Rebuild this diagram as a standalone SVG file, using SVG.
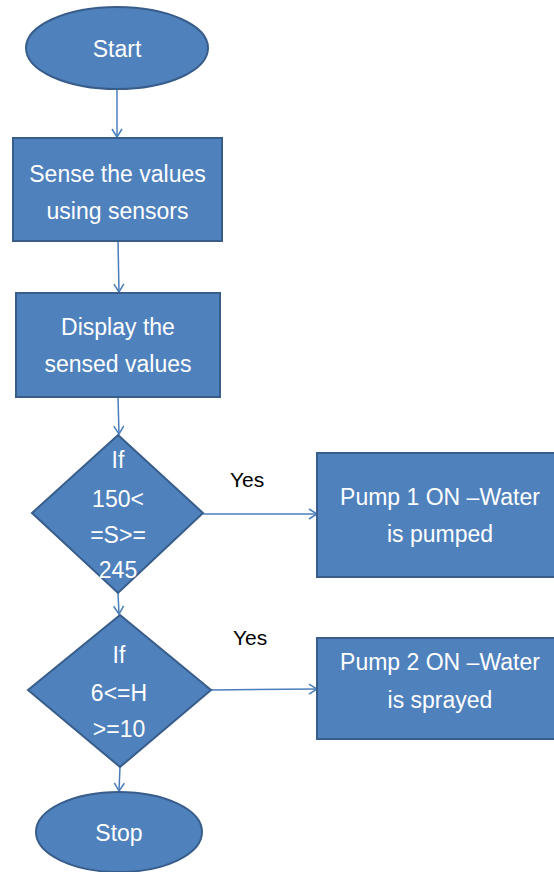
<svg xmlns="http://www.w3.org/2000/svg" width="554" height="872" viewBox="0 0 554 872">
<defs>
<style>
.shape{fill:#4F81BD;stroke:#385D8A;stroke-width:2}
.t{font-family:"Liberation Sans",Arial,sans-serif;font-size:23px;fill:#FFFFFF;text-anchor:middle}
.lbl{font-family:"Liberation Sans",Arial,sans-serif;font-size:21px;fill:#000000;text-anchor:start}
.conn{stroke:#4A7EBB;stroke-width:1.5;fill:none;marker-end:url(#arr)}
</style>
<marker id="arr" markerUnits="userSpaceOnUse" markerWidth="14" markerHeight="14" refX="11" refY="7" orient="auto">
<polyline points="3,2 11,7 3,12" fill="none" stroke="#4A7EBB" stroke-width="1.5"/>
</marker>
</defs>
<rect width="554" height="872" fill="#FFFFFF"/>
<g id="connectors">
<line class="conn" x1="117" y1="89" x2="117" y2="137"/>
<line class="conn" x1="118" y1="241" x2="119" y2="292"/>
<line class="conn" x1="118" y1="397" x2="119" y2="434"/>
<line class="conn" x1="118" y1="593" x2="119" y2="614"/>
<line class="conn" x1="120" y1="767" x2="119" y2="791"/>
<line class="conn" x1="203" y1="514" x2="317" y2="514"/>
<line class="conn" x1="211" y1="690" x2="317" y2="689"/>
<text class="lbl" x="230" y="487">Yes</text>
<text class="lbl" x="233" y="645">Yes</text>
</g>
<g id="start">
<ellipse class="shape" cx="117" cy="48" rx="91" ry="41"/>
<text class="t" x="117" y="57">Start</text>
</g>
<g id="sense">
<rect class="shape" x="13" y="138" width="209" height="103"/>
<text class="t" x="117.5" y="182">Sense the values</text>
<text class="t" x="117.5" y="219">using sensors</text>
</g>
<g id="display">
<rect class="shape" x="16" y="293" width="204" height="104"/>
<text class="t" x="118" y="335">Display the</text>
<text class="t" x="118" y="372">sensed values</text>
</g>
<g id="decision1">
<polygon class="shape" points="118,435 203,513 118,593 32,513"/>
<text class="t" x="118" y="468">If</text>
<text class="t" x="118" y="507">150&lt;</text>
<text class="t" x="118" y="543">=S&gt;=</text>
<text class="t" x="118" y="578">245</text>
</g>
<g id="decision2">
<polygon class="shape" points="120,615 211,690 120,767 28,690"/>
<text class="t" x="119" y="663">If</text>
<text class="t" x="119" y="701">6&lt;=H</text>
<text class="t" x="119" y="737">&gt;=10</text>
</g>
<g id="stop">
<ellipse class="shape" cx="119" cy="832" rx="83" ry="40"/>
<text class="t" x="119" y="841">Stop</text>
</g>
<g id="pump1">
<rect class="shape" x="317" y="453" width="246" height="124"/>
<text class="t" x="440" y="505">Pump 1 ON –Water</text>
<text class="t" x="440" y="542">is pumped</text>
</g>
<g id="pump2">
<rect class="shape" x="317" y="638" width="246" height="101"/>
<text class="t" x="440" y="670">Pump 2 ON –Water</text>
<text class="t" x="440" y="708">is sprayed</text>
</g>
</svg>
